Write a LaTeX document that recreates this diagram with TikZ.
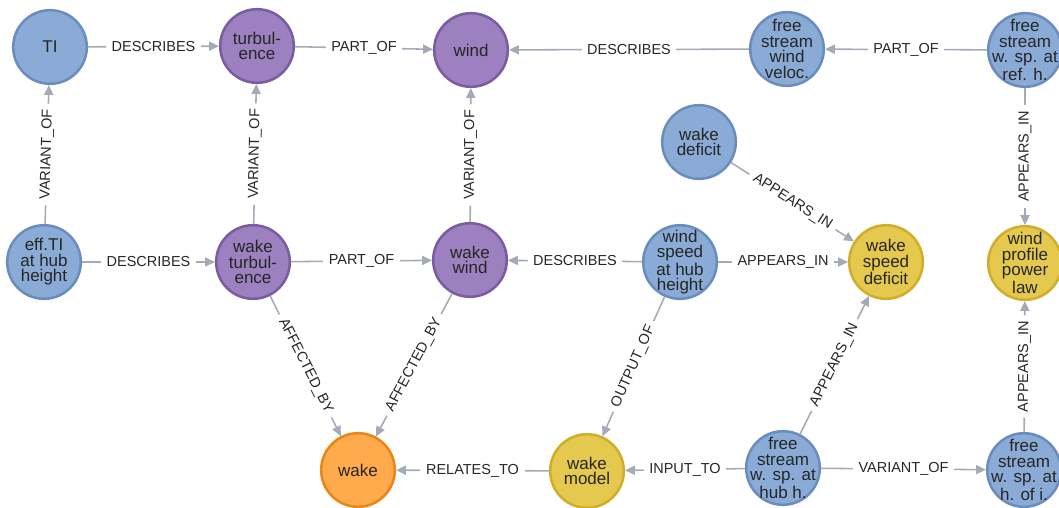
\documentclass[tikz,border=0pt]{standalone}
\usepackage{fontspec}
\setmainfont{Liberation Sans}
\usetikzlibrary{arrows.meta}

\definecolor{bluefill}{HTML}{8AABD5}
\definecolor{blueline}{HTML}{6A8DBE}
\definecolor{purplefill}{HTML}{9C80BF}
\definecolor{purpleline}{HTML}{7A5CA0}
\definecolor{yellowfill}{HTML}{E5C94F}
\definecolor{yellowline}{HTML}{D1AE2A}
\definecolor{orangefill}{HTML}{FFAA4D}
\definecolor{orangeline}{HTML}{EC8515}
\definecolor{edgegray}{HTML}{A5ABB6}

\begin{document}
\begin{tikzpicture}[x=0.025cm, y=-0.025cm,
		concept/.style={circle, line width=1.8pt, minimum size=1.84cm, inner sep=-20pt,
			align=center, text=black!85, font=\fontsize{12.1}{11}\selectfont},
		bluenode/.style={concept, draw=blueline, fill=bluefill},
		purplenode/.style={concept, draw=purpleline, fill=purplefill},
		yellownode/.style={concept, draw=yellownode, fill=yellowfill},
		yellownode/.style={concept, draw=yellowline, fill=yellowfill},
		orangenode/.style={concept, draw=orangeline, fill=orangefill},
		rel/.style={draw=edgegray, line width=1.1pt, -{Triangle[length=7pt, width=6.5pt]}},
		rellabel/.style={midway, fill=white, inner xsep=4pt, inner ysep=1pt,
			text=black!85, font=\fontsize{10.3}{12}\selectfont}]
		\useasboundingbox (0,0) rectangle (1059,507);

		\draw
		(50, 47) node [bluenode] (TI) {TI}
		(257, 46) node [purplenode] (turb) {turbul-\\ence}
		(471, 50) node [purplenode] (wind) {wind}
		(787, 49) node [bluenode] (fswv) {free\\stream\\wind\\veloc.}
		(1025, 50) node [bluenode] (fsref) {free\\stream\\w. sp. at\\ref. h.};

		\draw
		(699, 142) node [bluenode] (wdef) {wake\\deficit};

		\draw
		(44, 262) node [bluenode] (effTI) {eff.TI\\at hub\\height}
		(253, 262) node [purplenode] (wturb) {wake\\turbul-\\ence}
		(470, 260) node [purplenode] (wwind) {wake\\wind}
		(680, 262) node [bluenode] (wshh) {wind\\speed\\at hub\\height}
		(886, 262) node [yellownode] (wsdef) {wake\\speed\\deficit}
		(1025, 263) node [yellownode] (wppl) {wind\\profile\\power\\law};

		\draw
		(358, 470) node [orangenode] (wake) {wake}
		(587, 471) node [yellownode] (wmodel) {wake\\model}
		(783, 468) node [bluenode] (fshub) {free\\stream\\w. sp. at\\hub h.}
		(1024, 470) node [bluenode] (fshoi) {free\\stream\\w. sp. at\\h. of i.};

		\draw[rel] (TI) -- (turb) node [rellabel] {DESCRIBES};
		\draw[rel] (turb) -- (wind) node [rellabel] {PART\_OF};
		\draw[rel] (fswv) -- (wind) node [rellabel] {DESCRIBES};
		\draw[rel] (fsref) -- (fswv) node [rellabel] {PART\_OF};

		\draw[rel] (effTI) -- (TI) node [rellabel, sloped] {VARIANT\_OF};
		\draw[rel] (wturb) -- (turb) node [rellabel, sloped] {VARIANT\_OF};
		\draw[rel] (wwind) -- (wind) node [rellabel, sloped] {VARIANT\_OF};
		\draw[rel] (fsref) -- (wppl) node [rellabel, rotate=90] {APPEARS\_IN};
		\draw[rel] (wdef) -- (wsdef) node [rellabel, sloped] {APPEARS\_IN};

		\draw[rel] (effTI) -- (wturb) node [rellabel] {DESCRIBES};
		\draw[rel] (wturb) -- (wwind) node [rellabel] {PART\_OF};
		\draw[rel] (wshh) -- (wwind) node [rellabel] {DESCRIBES};
		\draw[rel] (wshh) -- (wsdef) node [rellabel] {APPEARS\_IN};

		\draw[rel] (wturb) -- (wake) node [rellabel, sloped] {AFFECTED\_BY};
		\draw[rel] (wwind) -- (wake) node [rellabel, sloped] {AFFECTED\_BY};
		\draw[rel] (wshh) -- (wmodel) node [rellabel, sloped] {OUTPUT\_OF};
		\draw[rel] (fshub) -- (wsdef) node [rellabel, sloped] {APPEARS\_IN};
		\draw[rel] (fshoi) -- (wppl) node [rellabel, sloped] {APPEARS\_IN};

		\draw[rel] (wmodel) -- (wake) node [rellabel] {RELATES\_TO};
		\draw[rel] (fshub) -- (wmodel) node [rellabel] {INPUT\_TO};
		\draw[rel] (fshub) -- (fshoi) node [rellabel] {VARIANT\_OF};
	\end{tikzpicture}
\end{document}
